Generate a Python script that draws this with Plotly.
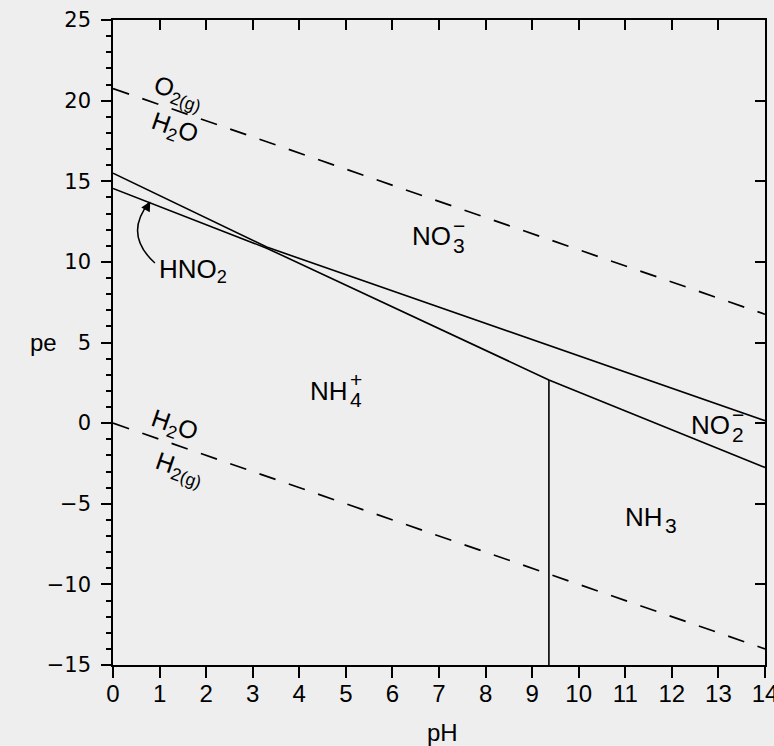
import plotly.graph_objects as go

# ---- data (pH, pe) ----
ph_o2 = [0, 14]
pe_o2 = [20.75, 6.75]          # O2(g)/H2O boundary

ph_h2 = [0, 14]
pe_h2 = [0.0, -14.0]           # H2O/H2(g) boundary

ph_upper = [0, 3.3, 14]
pe_upper = [15.5, 10.92, 0.15]  # NO3-/HNO2 then NO3-/NO2-

ph_lower = [0, 3.3, 9.36, 14]
pe_lower = [14.55, 10.85, 2.68, -2.75]  # HNO2/NH4+, NO2-/NH4+, NO2-/NH3

ph_vert = [9.36, 9.36]
pe_vert = [-15, 2.68]          # NH4+/NH3 boundary

x_ticks = list(range(0, 15))
y_ticks = list(range(-15, 26, 5))

# species labels: junction point (pH, pe), base text, subscript, superscript
species = [
    (7.28, 11.6, "NO", "3", "\u2212"),
    (5.07, 2.0, "NH", "4", "+"),
    (13.27, -0.12, "NO", "2", "\u2212"),
    (11.83, -5.82, "NH", "3", ""),
]

FONT = "Liberation Sans, Arial, sans-serif"
LINE = dict(color="black", width=1.6)
DASH = dict(color="black", width=1.7, dash="17px,14px")

fig = go.Figure()
fig.add_trace(go.Scatter(x=ph_o2, y=pe_o2, mode="lines", line=DASH, showlegend=False, hoverinfo="skip"))
fig.add_trace(go.Scatter(x=ph_h2, y=pe_h2, mode="lines", line=DASH, showlegend=False, hoverinfo="skip"))
fig.add_trace(go.Scatter(x=ph_upper, y=pe_upper, mode="lines", line=LINE, showlegend=False, hoverinfo="skip"))
fig.add_trace(go.Scatter(x=ph_lower, y=pe_lower, mode="lines", line=LINE, showlegend=False, hoverinfo="skip"))
fig.add_trace(go.Scatter(x=ph_vert, y=pe_vert, mode="lines", line=LINE, showlegend=False, hoverinfo="skip"))
# dummy trace for the mirrored (top/right) axes
fig.add_trace(go.Scatter(x=[None], y=[None], xaxis="x2", yaxis="y2", showlegend=False, hoverinfo="skip"))

ann = []
for (px, py, base, sub, sup) in species:
    ann.append(dict(x=px, y=py, text=base, showarrow=False, xanchor="right", yanchor="middle",
                    borderpad=0, font=dict(family=FONT, size=26, color="black")))
    if sub:
        ann.append(dict(x=px, y=py, text=sub, showarrow=False, xanchor="left", yanchor="middle",
                        borderpad=0, xshift=0, yshift=-9, font=dict(family=FONT, size=21, color="black")))
    if sup:
        ann.append(dict(x=px, y=py, text=sup, showarrow=False, xanchor="left", yanchor="middle",
                        borderpad=0, xshift=0, yshift=11, font=dict(family=FONT, size=21, color="black")))

# water stability labels (rotated along the dashed lines)
ang = 19
ann += [
    dict(x=1.40, y=20.45, text="O<sub>2(g)</sub>", showarrow=False, textangle=ang,
         font=dict(family=FONT, size=25, color="black")),
    dict(x=1.33, y=18.25, text="H<sub>2</sub>O", showarrow=False, textangle=ang,
         font=dict(family=FONT, size=25, color="black")),
    dict(x=1.31, y=-0.15, text="H<sub>2</sub>O", showarrow=False, textangle=ang,
         font=dict(family=FONT, size=25, color="black")),
    dict(x=1.42, y=-2.85, text="H<sub>2(g)</sub>", showarrow=False, textangle=ang,
         font=dict(family=FONT, size=25, color="black")),
    dict(x=1.72, y=9.45, text="HNO<sub>2</sub>", showarrow=False,
         font=dict(family=FONT, size=26, color="black")),
    # arrow head of the curved HNO2 pointer
    dict(x=0.80, y=13.75, ax=-5, ay=9, text="", showarrow=True, arrowhead=2,
         arrowsize=1.3, arrowwidth=1.5, arrowcolor="black", standoff=0),
    # axis titles
    dict(xref="paper", yref="paper", x=-0.13, y=(5 + 15) / 40, text="pe", showarrow=False,
         font=dict(family=FONT, size=24, color="black")),
    dict(xref="paper", yref="paper", x=0.505, y=-0.105, text="pH", showarrow=False,
         yanchor="middle", font=dict(family=FONT, size=24, color="black")),
]

shapes = [
    dict(type="path", xref="x", yref="y",
         path="M 0.90,9.93 Q 0.22,11.7 0.78,13.7",
         line=dict(color="black", width=1.5)),
]

fig.update_layout(
    width=774, height=746,
    margin=dict(l=113, r=9, t=20, b=81, autoexpand=False),
    paper_bgcolor="#eeeeee", plot_bgcolor="#eeeeee",
    font=dict(family=FONT, color="black"),
    annotations=ann, shapes=shapes,
    xaxis=dict(range=[0, 14], tickvals=x_ticks, ticks="outside", ticklen=11, tickwidth=1.6,
               tickcolor="black", showline=True, linecolor="black", linewidth=1.6,
               showgrid=False, zeroline=False, automargin=False, ticklabeloverflow="allow",
               ticklabelstandoff=-5,
               tickfont=dict(family=FONT, size=24, color="black")),
    yaxis=dict(range=[-15, 25], tickvals=y_ticks, ticks="outside", ticklen=10, tickwidth=1.6,
               tickcolor="black", showline=True, linecolor="black", linewidth=1.6,
               showgrid=False, zeroline=False, automargin=False, ticklabeloverflow="allow",
               ticklabelstandoff=6,
               minor=dict(dtick=1, ticks="outside", ticklen=5, tickwidth=1.5, tickcolor="black", showgrid=False),
               tickfont=dict(family="DejaVu Sans, sans-serif", size=21, color="black")),
    xaxis2=dict(range=[0, 14], overlaying="x", side="top", anchor="y", tickvals=x_ticks,
                ticks="inside", ticklen=10, tickwidth=1.6, tickcolor="black",
                showticklabels=False, showline=True, linecolor="black", linewidth=1.6,
                showgrid=False, zeroline=False, automargin=False),
    yaxis2=dict(range=[-15, 25], overlaying="y", side="right", anchor="x", tickvals=y_ticks,
                ticks="inside", ticklen=10, tickwidth=1.6, tickcolor="black",
                showticklabels=False, showline=True, linecolor="black", linewidth=1.6,
                showgrid=False, zeroline=False, automargin=False),
)

fig.write_html(
    "out.html",
    config={"displayModeBar": False},
    post_script="document.body.style.margin='0';document.body.style.background='#eeeeee';",
)
